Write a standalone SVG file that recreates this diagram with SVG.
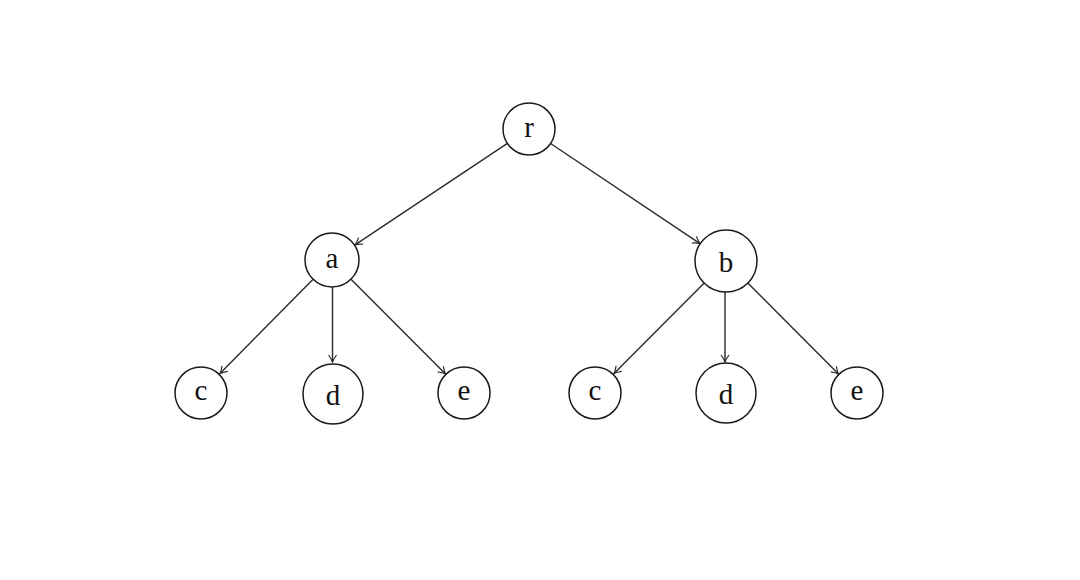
<svg xmlns="http://www.w3.org/2000/svg" width="1080" height="580" viewBox="0 0 1080 580">
<style>
.n{fill:#fff;stroke:#1a1a1a;stroke-width:1.5}
.t{font-family:"Liberation Serif","DejaVu Serif",serif;font-size:29px;fill:#111;text-anchor:middle}
.e{stroke:#2a2a2a;stroke-width:1.4;fill:none;marker-end:url(#ar)}
</style>
<defs>
<marker id="ar" markerUnits="userSpaceOnUse" markerWidth="12" markerHeight="12" viewBox="-9 -6 10 12" refX="0" refY="0" orient="auto">
<path d="M-7,-4 Q-3,-1 0,0 Q-3,1 -7,4" fill="none" stroke="#2a2a2a" stroke-width="1.2"/>
</marker>
</defs>
<rect width="1080" height="580" fill="#fff"/>
<g id="edges">
<line class="e" x1="507.4" y1="143.4" x2="355" y2="244.8"/>
<line class="e" x1="550.6" y1="143.5" x2="700" y2="243.6"/>
<line class="e" x1="313.1" y1="279.2" x2="220" y2="373.5"/>
<line class="e" x1="332.5" y1="287" x2="332.5" y2="362"/>
<line class="e" x1="351" y1="279.2" x2="445.5" y2="374"/>
<line class="e" x1="704.2" y1="283" x2="614" y2="373.5"/>
<line class="e" x1="725" y1="292" x2="725" y2="362"/>
<line class="e" x1="747.8" y1="283" x2="838.5" y2="374"/>
</g>
<g id="node-r"><circle class="n" cx="529" cy="129" r="26"/><text class="t" x="529" y="137">r</text></g>
<g id="node-a"><circle class="n" cx="332" cy="260" r="27"/><text class="t" x="332" y="268">a</text></g>
<g id="node-b"><circle class="n" cx="726" cy="261" r="31"/><text class="t" x="726" y="272">b</text></g>
<g id="node-c1"><circle class="n" cx="201" cy="393" r="26"/><text class="t" x="201" y="400">c</text></g>
<g id="node-d1"><circle class="n" cx="333" cy="394" r="30"/><text class="t" x="333" y="405">d</text></g>
<g id="node-e1"><circle class="n" cx="464" cy="393" r="26"/><text class="t" x="464" y="400">e</text></g>
<g id="node-c2"><circle class="n" cx="595" cy="393" r="26"/><text class="t" x="595" y="400">c</text></g>
<g id="node-d2"><circle class="n" cx="726" cy="393" r="30"/><text class="t" x="726" y="404">d</text></g>
<g id="node-e2"><circle class="n" cx="857" cy="393" r="26"/><text class="t" x="857" y="400">e</text></g>
</svg>
